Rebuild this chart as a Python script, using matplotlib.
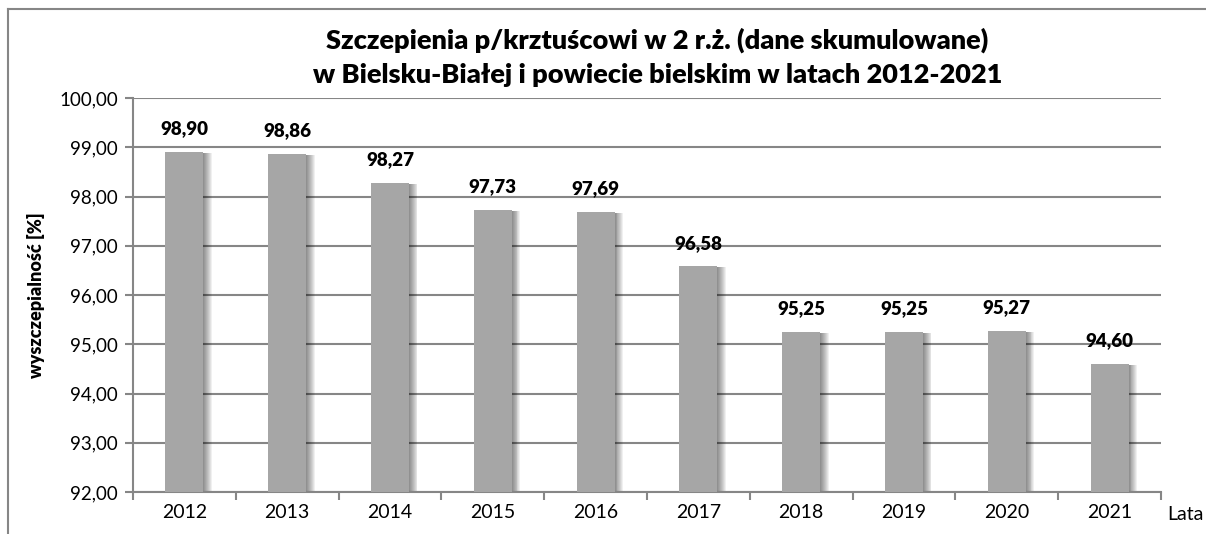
import matplotlib.pyplot as plt
from matplotlib.ticker import FixedLocator
from matplotlib.lines import Line2D

plt.rcParams['font.family'] = ['Lato', 'DejaVu Sans']

# data
years = ['2012', '2013', '2014', '2015', '2016', '2017', '2018', '2019', '2020', '2021']
values = [98.90, 98.86, 98.27, 97.73, 97.69, 96.58, 95.25, 95.25, 95.27, 94.60]
y_ticks = [92, 93, 94, 95, 96, 97, 98, 99, 100]

fig = plt.figure(figsize=(12.06, 5.34), dpi=100)
ax = fig.add_axes([133 / 1206, 1 - 492 / 534, 1028 / 1206, 394 / 534])

x = list(range(len(years)))
base = 92
w = 0.37

# soft shadow on the right side of each bar
for i in range(9):
    off = 0.01 + i * 0.009
    ax.bar([p + off for p in x], [v - base - 0.02 for v in values], width=w, bottom=base,
           color='black', alpha=0.06, zorder=2, linewidth=0)

ax.bar(x, [v - base for v in values], width=w, bottom=base,
       color='#a6a6a6', zorder=3, linewidth=0)

for p, v in zip(x, values):
    ax.text(p, v + 0.3, f'{v:.2f}'.replace('.', ','), ha='center', va='bottom',
            fontsize=13.5, fontweight='heavy', color='black', zorder=4)

ax.set_xlim(-0.5, len(years) - 0.5)
ax.set_ylim(92, 100)
ax.set_yticks(y_ticks)
ax.set_yticklabels([f'{t:.2f}'.replace('.', ',') for t in y_ticks], fontsize=13.5)
ax.yaxis.grid(True, color='#868686', linewidth=1.5, zorder=1)
ax.set_axisbelow(True)

ax.set_xticks(x)
ax.set_xticklabels(years, fontsize=14)
ax.xaxis.set_minor_locator(FixedLocator([p - 0.5 for p in x] + [len(years) - 0.5]))
ax.tick_params(axis='x', which='major', length=0, pad=9)
ax.tick_params(axis='x', which='minor', length=6, width=1.5, color='#868686', direction='out')
ax.tick_params(axis='y', length=6, width=1.5, color='#868686', pad=5)

for s in ['top', 'right']:
    ax.spines[s].set_visible(False)
for s in ['left', 'bottom']:
    ax.spines[s].set_color('#868686')
    ax.spines[s].set_linewidth(1.5)

ax.set_ylabel('wyszczepialność [%]', fontsize=13, fontweight='heavy', labelpad=10)
fig.text(1167 / 1206, 1 - 515 / 534, 'Lata', fontsize=14, va='center', ha='left')

fig.text(0.545, 1 - 40 / 534, 'Szczepienia p/krztuścowi w 2 r.ż. (dane skumulowane)',
         ha='center', va='center', fontsize=19.5, fontweight='heavy')
fig.text(0.545, 1 - 75 / 534, 'w Bielsku-Białej i powiecie bielskim w latach 2012-2021',
         ha='center', va='center', fontsize=19.5, fontweight='heavy')

# chart area border (left and top edges visible)
fig.add_artist(Line2D([8 / 1206, 8 / 1206], [0, 1 - 9 / 534], transform=fig.transFigure,
                      color='#868686', linewidth=1.5))
fig.add_artist(Line2D([8 / 1206, 1], [1 - 9 / 534, 1 - 9 / 534], transform=fig.transFigure,
                      color='#868686', linewidth=1.5))

fig.savefig('out.png', dpi=100)
